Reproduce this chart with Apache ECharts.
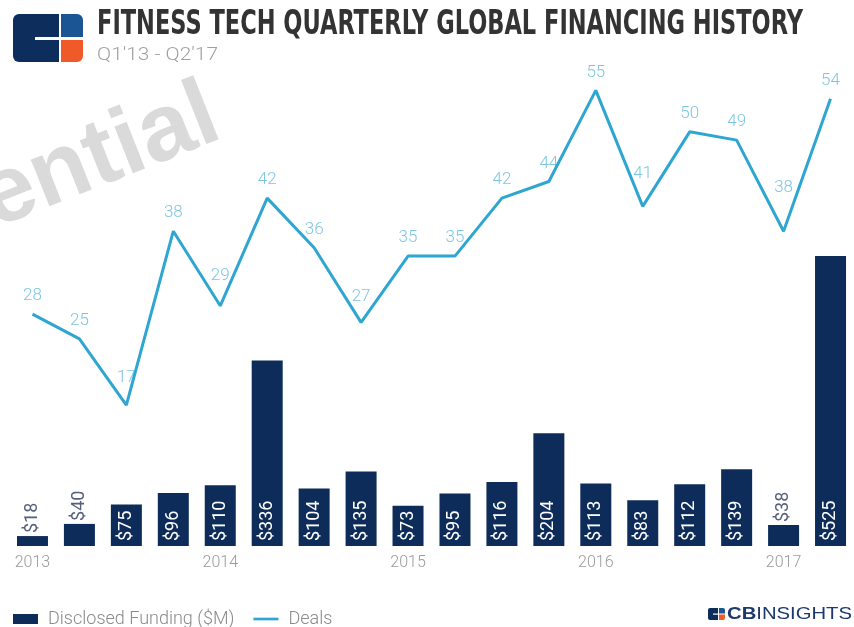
<!DOCTYPE html>
<html>
<head>
<meta charset="utf-8">
<script src="https://cdn.jsdelivr.net/npm/echarts@6/dist/echarts.min.js"></script>
<style>
html,body{margin:0;padding:0;background:#fff;}
#chart{width:854px;height:627px;}
</style>
</head>
<body>
<div id="chart"></div>
<script>
// ---- data ----
const quarters = ["Q1'13","Q2'13","Q3'13","Q4'13","Q1'14","Q2'14","Q3'14","Q4'14","Q1'15","Q2'15","Q3'15","Q4'15","Q1'16","Q2'16","Q3'16","Q4'16","Q1'17","Q2'17"];
const yearLabels = ['2013','','','','2014','','','','2015','','','','2016','','','','2017',''];
const funding = [18,40,75,96,110,336,104,135,73,95,116,204,113,83,112,139,38,525];
const deals = [28,25,17,38,29,42,36,27,35,35,42,44,55,41,50,49,38,54];
const seriesNames = ['Disclosed Funding ($M)','Deals'];
const titleText = 'FITNESS TECH QUARTERLY GLOBAL FINANCING HISTORY';
const subtitleText = "Q1'13 - Q2'17";

// ---- styling helpers ----
const dealLabelLift = {2:18, 4:21, 7:17, 13:24, 16:34};
const NAVY = '#0e2c5a';
const LINE = '#2fa6d1';

const ctx = document.createElement('canvas').getContext('2d');
function measure(text, font){ ctx.font = font; return ctx.measureText(text).width; }

const titleFont = 'bold 33px "Liberation Sans Narrow","DejaVu Sans Condensed",sans-serif';
const titleScale = 706 / measure(titleText, titleFont);
const subFont = '300 19px Roboto';
const subScale = 121 / measure(subtitleText, subFont);
const cbFont = 'bold 17px "Liberation Sans"';
const insFont = '17px "Liberation Sans"';
const cbW = measure('CB', cbFont), insW = measure('INSIGHTS', insFont);
const cbScale = 125 / (cbW + insW);

const chart = echarts.init(document.getElementById('chart'), null, {renderer:'canvas'});

const option = {
  backgroundColor: '#ffffff',
  animation: false,
  grid: {left: 9, width: 850, top: 49, height: 497, containLabel: false},
  legend: {
    left: 8, top: 605,
    itemWidth: 25, itemHeight: 10, itemGap: 19,
    textStyle: {fontSize: 18, color: '#8a8a8a', fontFamily: 'Roboto', fontWeight: 300, padding:[0,0,0,5]},
    data: [
      {name: seriesNames[0], icon: 'rect'},
      {name: seriesNames[1], icon: 'path://M0,0 L28,0 L28,3 L0,3 Z'}
    ]
  },
  xAxis: {
    type: 'category',
    data: quarters,
    axisLine: {show: false}, axisTick: {show: false}, splitLine: {show: false},
    axisLabel: {
      interval: 0, margin: 9,
      fontSize: 16, color: '#9a9a9a', fontFamily: 'Roboto', fontWeight: 300,
      formatter: (v, i) => yearLabels[i]
    }
  },
  yAxis: [
    {type: 'value', min: 0, max: 900, show: false, splitLine: {show: false}},
    {type: 'value', min: 0, max: 60, show: false, splitLine: {show: false}}
  ],
  series: [
    {
      name: seriesNames[0], type: 'bar', yAxisIndex: 0,
      barWidth: 31,
      itemStyle: {color: NAVY},
      label: {
        show: true, position: 'insideBottom', rotate: 90, distance: 5,
        align: 'left', verticalAlign: 'middle',
        color: '#ffffff', fontSize: 18, fontFamily: 'Roboto',
        formatter: p => '$' + p.value
      },
      data: funding.map(v => v < 50
        ? {value: v, label: {position: 'top', distance: 3, color: '#56607a'}}
        : v)
    },
    {
      name: seriesNames[1], type: 'line', yAxisIndex: 1,
      symbol: 'none',
      lineStyle: {color: LINE, width: 3},
      itemStyle: {color: LINE},
      data: deals
    },
    {
      name: 'DealsLabels', type: 'scatter', yAxisIndex: 1,
      symbolSize: 1, silent: true,
      itemStyle: {color: 'rgba(0,0,0,0)'},
      label: {
        show: true, position: 'top', distance: 9,
        color: '#5cb8d8', fontSize: 17, fontFamily: 'Roboto', fontWeight: 300,
        formatter: p => String(p.value)
      },
      data: deals.map((v, i) => dealLabelLift[i] !== undefined
        ? {value: v, label: {distance: dealLabelLift[i]}}
        : v)
    }
  ],
  graphic: [
    // watermark
    {type: 'text', x: 2, y: 248, rotation: 0.377, z: -10, silent: true,
     style: {text: 'ential', fontSize: 95, fontWeight: 'bold', fontFamily: '"Liberation Sans"', fill: '#dadada', align: 'left', verticalAlign: 'bottom'}},
    // logo
    {type: 'rect', shape: {x: 13, y: 14, width: 46, height: 48, r: [6,0,0,6]}, style: {fill: '#0d2d5c'}},
    {type: 'rect', shape: {x: 35, y: 37, width: 25, height: 3}, style: {fill: '#ffffff'}},
    {type: 'rect', shape: {x: 61, y: 14, width: 22, height: 23, r: [0,6,0,0]}, style: {fill: '#1b5594'}},
    {type: 'rect', shape: {x: 61, y: 40, width: 22, height: 22, r: [0,0,6,0]}, style: {fill: '#f05a28'}},
    // title & subtitle
    {type: 'text', x: 97, y: 9, scaleX: titleScale,
     style: {text: titleText, font: titleFont, fill: '#333333', align: 'left', verticalAlign: 'top'}},
    {type: 'text', x: 97, y: 46, scaleX: subScale,
     style: {text: subtitleText, font: subFont, fill: '#a0a0a0', align: 'left', verticalAlign: 'top'}},
    // CB Insights logo
    {type: 'rect', shape: {x: 708, y: 608, width: 10, height: 12, r: [2,0,0,2]}, style: {fill: '#0d2d5c'}},
    {type: 'rect', shape: {x: 713, y: 613.5, width: 5, height: 1.2}, style: {fill: '#ffffff'}},
    {type: 'rect', shape: {x: 719, y: 608, width: 6, height: 5.5, r: [0,2,0,0]}, style: {fill: '#1b5594'}},
    {type: 'rect', shape: {x: 719, y: 614.5, width: 6, height: 5.5, r: [0,0,2,0]}, style: {fill: '#f05a28'}},
    {type: 'text', x: 727, y: 606, scaleX: cbScale,
     style: {text: 'CB', font: cbFont, fill: '#1b3a6b', align: 'left', verticalAlign: 'top'}},
    {type: 'text', x: 727 + cbW * cbScale, y: 606, scaleX: cbScale,
     style: {text: 'INSIGHTS', font: insFont, fill: '#1b3a6b', align: 'left', verticalAlign: 'top'}}
  ]
};
chart.setOption(option);
</script>
</body>
</html>
